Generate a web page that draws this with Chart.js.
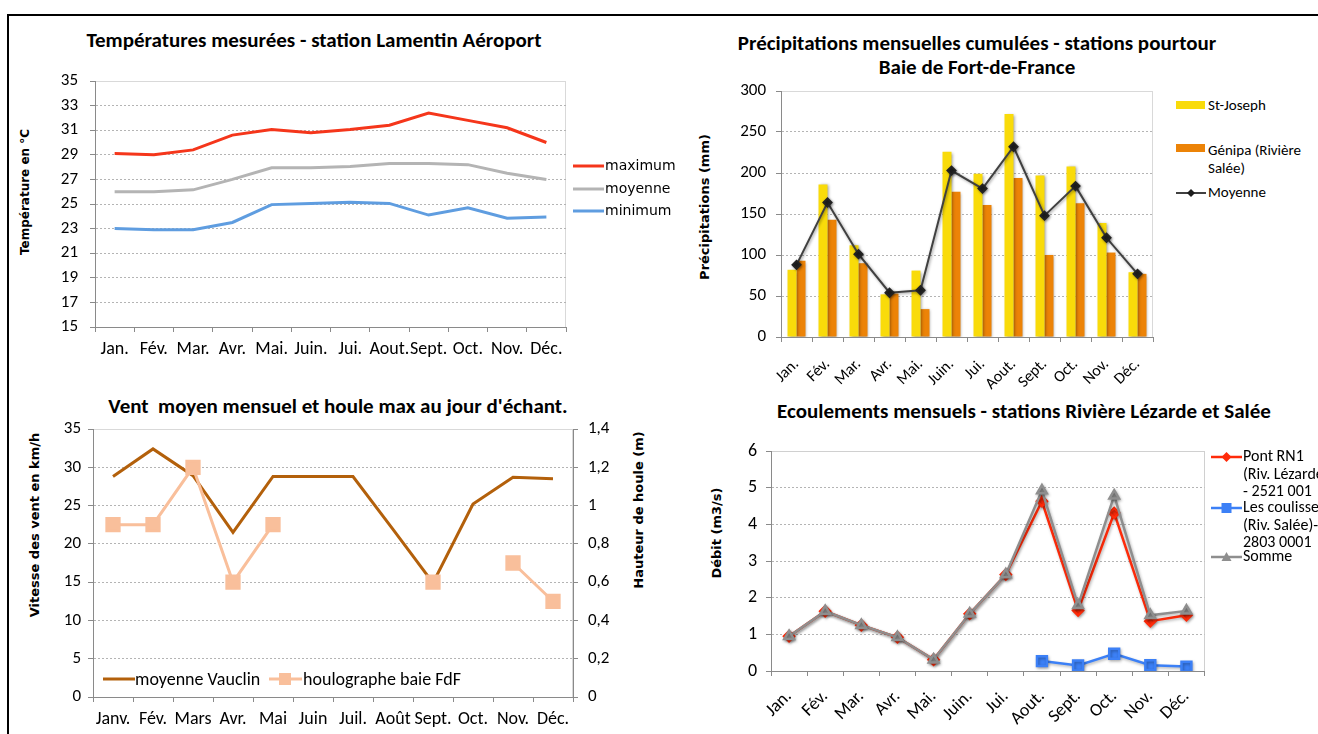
<!DOCTYPE html>
<html lang="fr">
<head>
<meta charset="utf-8">
<title>Climatologie et hydrologie - Baie de Fort-de-France</title>
<script src="https://cdn.jsdelivr.net/npm/chart.js@4.4.1/dist/chart.umd.min.js"></script>
<style>
  body { margin: 0; background: #fff; }
  #page { position: relative; width: 1318px; height: 734px; overflow: hidden; background: #fff;
          font-family: Carlito, Lato, "Liberation Sans", sans-serif; color: #000; }
  .frame { position: absolute; left: 7px; top: 14px; width: 1320px; height: 730px;
           border-top: 2px solid #000; border-left: 2px solid #000; }
  canvas { position: absolute; }
  .title { position: absolute; white-space: nowrap; font-weight: bold; font-size: 21px;
           transform: translate(-50%, -50%); text-align: center; line-height: 24px; }
  .ytitle { position: absolute; white-space: nowrap; font-family: "DejaVu Sans", sans-serif;
            font-weight: bold; font-size: 13px; transform: translate(-50%, -50%) rotate(-90deg); }
  .leg { position: absolute; white-space: nowrap; }
  .leg svg { position: absolute; }
  .leg span { position: absolute; display: block; }
</style>
</head>
<body>
<div id="page">
  <div class="frame"></div>

  <!-- Températures -->
  <div class="title" style="left:314px; top:40px;">Températures mesurées - station Lamentin Aéroport</div>
  <div class="ytitle" style="left:25px; top:192px; font-size:12px;">Température en °C</div>
  <canvas id="cTemp" width="556" height="298" style="left:30px; top:69px;"></canvas>
  <div class="leg" style="left:573px; top:0; font-family:'DejaVu Sans',sans-serif; font-size:14px;">
    <svg width="31" height="4" style="left:0; top:164px;"><line x1="0" y1="2" x2="31" y2="2" stroke="#F5361B" stroke-width="3"/></svg>
    <span style="left:32px; top:157px; line-height:17px;">maximum</span>
    <svg width="31" height="4" style="left:0; top:187px;"><line x1="0" y1="2" x2="31" y2="2" stroke="#B4B4B4" stroke-width="3"/></svg>
    <span style="left:32px; top:180px; line-height:17px;">moyenne</span>
    <svg width="31" height="4" style="left:0; top:209px;"><line x1="0" y1="2" x2="31" y2="2" stroke="#5F9DE0" stroke-width="3"/></svg>
    <span style="left:32px; top:202px; line-height:17px;">minimum</span>
  </div>

  <!-- Précipitations -->
  <div class="title" style="left:977px; top:55px;">Précipitations mensuelles cumulées - stations pourtour<br>Baie de Fort-de-France</div>
  <div class="ytitle" style="left:704px; top:207px;">Précipitations (mm)</div>
  <canvas id="cPluie" width="457" height="313" style="left:711px; top:79px;"></canvas>
  <div class="leg" style="left:1176px; top:0; font-size:15px;">
    <svg width="29" height="8" style="left:0; top:101px;"><rect x="0" y="0" width="29" height="8" fill="#F9DB0A"/></svg>
    <span style="left:32px; top:96px; line-height:18px;">St-Joseph</span>
    <svg width="29" height="8" style="left:0; top:144px;"><rect x="0" y="0" width="29" height="8" fill="#EC8307"/></svg>
    <span style="left:32px; top:141px; line-height:18px;">Génipa (Rivière<br>Salée)</span>
    <svg width="30" height="12" style="left:0; top:187px;"><line x1="0" y1="6" x2="30" y2="6" stroke="#404040" stroke-width="2"/><polygon points="15,2 19,6 15,10 11,6" fill="#1E1E1E"/></svg>
    <span style="left:32px; top:183px; line-height:18px;">Moyenne</span>
  </div>

  <!-- Vent et houle -->
  <div class="title" style="left:338px; top:406px;">Vent&nbsp; moyen mensuel et houle max au jour d'échant.</div>
  <div class="ytitle" style="left:34px; top:525px;">Vitesse des vent en km/h</div>
  <div class="ytitle" style="left:638px; top:510px;">Hauteur de houle (m)</div>
  <canvas id="cVent" width="585" height="315" style="left:33px; top:417px;"></canvas>
  <div class="leg" style="left:0; top:0; font-size:18px;">
    <svg width="32" height="4" style="left:103px; top:677px;"><line x1="0" y1="2" x2="32" y2="2" stroke="#B3600B" stroke-width="3"/></svg>
    <span style="left:135px; top:668px; line-height:22px;">moyenne Vauclin</span>
    <svg width="33" height="14" style="left:269px; top:672px;"><line x1="0" y1="7" x2="33" y2="7" stroke="#F9BF9B" stroke-width="3"/><rect x="10" y="1" width="12" height="12" fill="#F9BF9B"/></svg>
    <span style="left:303px; top:668px; line-height:22px;">houlographe baie FdF</span>
  </div>

  <!-- Écoulements -->
  <div class="title" style="left:1024px; top:411px;">Ecoulements mensuels - stations Rivière Lézarde et Salée</div>
  <div class="ytitle" style="left:716px; top:533px;">Débit (m3/s)</div>
  <canvas id="cDebit" width="503" height="292" style="left:711px; top:439px;"></canvas>
  <div class="leg" style="left:1211px; top:0; font-size:16px;">
    <svg width="31" height="12" style="left:0; top:451px;"><line x1="0" y1="6" x2="31" y2="6" stroke="#FF2B0A" stroke-width="2.5"/><polygon points="15.5,1 20.5,6 15.5,11 10.5,6" fill="#FF2B0A"/></svg>
    <span style="left:32px; top:447px; line-height:17.5px;">Pont RN1<br>(Riv. Lézarde<br>- 2521 001</span>
    <svg width="31" height="12" style="left:0; top:502px;"><line x1="0" y1="6" x2="31" y2="6" stroke="#3C80F6" stroke-width="2.5"/><rect x="10.5" y="1" width="10" height="10" fill="#3C80F6"/></svg>
    <span style="left:32px; top:498px; line-height:17.5px;">Les coulisses<br>(Riv. Salée)-<br>2803 0001</span>
    <svg width="31" height="12" style="left:0; top:551px;"><line x1="0" y1="6" x2="31" y2="6" stroke="#8E8E8E" stroke-width="2.5"/><polygon points="15.5,1 20.5,10 10.5,10" fill="#8E8E8E"/></svg>
    <span style="left:32px; top:547px; line-height:17.5px;">Somme</span>
  </div>
</div>

<script>
// Mois (libellés d'axe)
const moisCourts = ['Jan.', 'Fév.', 'Mar.', 'Avr.', 'Mai.', 'Juin.', 'Jui.', 'Aout.', 'Sept.', 'Oct.', 'Nov.', 'Déc.'];
const moisVent = ['Janv.', 'Fév.', 'Mars', 'Avr.', 'Mai', 'Juin', 'Juil.', 'Août', 'Sept.', 'Oct.', 'Nov.', 'Déc.'];

// Températures mensuelles (°C) - Lamentin Aéroport
const tempMaximum = [29.1, 29.0, 29.4, 30.6, 31.05, 30.8, 31.05, 31.4, 32.4, 31.8, 31.2, 30.0];
const tempMoyenne = [26.0, 26.0, 26.15, 27.0, 27.95, 27.95, 28.05, 28.3, 28.3, 28.2, 27.5, 27.0];
const tempMinimum = [23.0, 22.9, 22.9, 23.5, 24.95, 25.05, 25.15, 25.05, 24.1, 24.7, 23.85, 23.95];

// Précipitations mensuelles cumulées (mm)
const pluieStJoseph = [82, 186, 112, 52, 81, 226, 199, 272, 197, 208, 139, 79];
const pluieGenipa = [93, 143, 90, 53, 34, 177, 161, 194, 100, 163, 103, 77];
const pluieMoyenne = [88, 164, 101, 54, 57, 203, 181, 232, 148, 184, 121, 77];

// Vent moyen (km/h) et houle max (m)
const ventVauclin = [28.8, 32.4, 28.9, 21.5, 28.8, 28.8, 28.8, 21.9, 14.9, 25.2, 28.7, 28.5];
const houleFdF = [0.9, 0.9, 1.2, 0.6, 0.9, null, null, null, 0.6, null, 0.7, 0.5];

// Débits mensuels (m3/s)
const debitPontRN1 = [0.95, 1.63, 1.25, 0.92, 0.31, 1.56, 2.63, 4.63, 1.65, 4.31, 1.36, 1.52];
const debitCoulisses = [null, null, null, null, null, null, null, 0.27, 0.15, 0.47, 0.16, 0.12];
const debitSomme = [0.95, 1.63, 1.25, 0.92, 0.31, 1.56, 2.63, 4.92, 1.79, 4.78, 1.52, 1.64];

const fontFamily = 'Carlito, Lato, sans-serif';
const font = (size) => ({ family: fontFamily, size: size });
const axisGray = '#8A8A8A';
const gridGray = '#B4B4B4';

// Cadre gris clair autour de la zone de tracé
const plotFrame = {
  id: 'plotFrame',
  beforeDraw(chart, args, opts) {
    const { ctx, chartArea: a } = chart;
    ctx.save();
    ctx.strokeStyle = opts.color || '#D9D9D9';
    ctx.lineWidth = 1;
    ctx.strokeRect(Math.round(a.left) + 0.5, Math.round(a.top) + 0.5,
                   Math.round(a.right - a.left) - 1, Math.round(a.bottom - a.top));
    ctx.restore();
  }
};

// Ombre portée légère sur les séries
const softShadow = {
  id: 'softShadow',
  beforeDatasetDraw(chart, args, opts) {
    const ctx = chart.ctx;
    ctx.save();
    ctx.shadowColor = opts.color || 'rgba(0,0,0,0.35)';
    ctx.shadowBlur = opts.blur ?? 3;
    ctx.shadowOffsetX = opts.x ?? 1;
    ctx.shadowOffsetY = opts.y ?? 1;
  },
  afterDatasetDraw(chart) { chart.ctx.restore(); }
};

// Grille pointillée, sans les lignes confondues avec le cadre
function dottedGrid(minV, maxV) {
  return {
    color: (c) => (c.tick && (c.tick.value === minV || c.tick.value === maxV)) ? 'rgba(0,0,0,0)' : gridGray,
    tickColor: axisGray,
    tickLength: 5
  };
}

// Largeur fixe des axes verticaux : la zone de tracé ne dépend que de la marge du graphique
function fixWidth(w) {
  return (s) => { s.width = w; s.paddingTop = 0; s.paddingBottom = 0; };
}

function valueAxis(min, max, step, size, padding, width, extra) {
  return Object.assign({
    min: min, max: max,
    ticks: { stepSize: step, font: font(size), color: '#000', padding: padding },
    grid: dottedGrid(min, max),
    border: { color: axisGray, dash: [2, 2] },
    afterFit: fixWidth(width)
  }, extra || {});
}

function categoryAxis(labels, opts) {
  return {
    type: 'category',
    labels: labels,
    offset: true,
    grid: { offset: true, drawOnChartArea: false, tickLength: 5, tickColor: axisGray, color: axisGray },
    border: { color: axisGray },
    ticks: Object.assign({ font: font(opts.size), color: '#000', autoSkip: false,
                           maxRotation: opts.rotation || 0, minRotation: opts.rotation || 0,
                           padding: opts.padding }),
    afterFit: (s) => { s.height = opts.height; s.paddingLeft = 0; s.paddingRight = 0; }
  };
}

const baseOptions = (padding) => ({
  responsive: false,
  animation: false,
  events: [],
  layout: { padding: padding },
  plugins: { legend: { display: false }, tooltip: { enabled: false }, title: { display: false } }
});

// 1. Températures
const tempOptions = baseOptions({ top: 12, right: 20, left: 0, bottom: 0 });
tempOptions.scales = {
  x: categoryAxis(moisCourts, { height: 40, size: 18, padding: 7 }),
  y: valueAxis(15, 35, 2, 17, 12, 65)
};
new Chart(document.getElementById('cTemp'), {
  type: 'line',
  data: {
    labels: moisCourts,
    datasets: [
      { label: 'maximum', data: tempMaximum, borderColor: '#F5361B', borderWidth: 3, pointRadius: 0, tension: 0 },
      { label: 'moyenne', data: tempMoyenne, borderColor: '#B4B4B4', borderWidth: 3, pointRadius: 0, tension: 0 },
      { label: 'minimum', data: tempMinimum, borderColor: '#5F9DE0', borderWidth: 3, pointRadius: 0, tension: 0 }
    ]
  },
  options: tempOptions,
  plugins: [plotFrame]
});

// 2. Précipitations
const pluieOptions = baseOptions({ top: 12, right: 15, left: 0, bottom: 0 });
pluieOptions.plugins.softShadow = { color: 'rgba(0,0,0,0.4)', blur: 3, x: 1, y: 1 };
pluieOptions.scales = {
  x: categoryAxis(moisCourts, { height: 55, size: 16, padding: 13, rotation: 45 }),
  y: valueAxis(0, 300, 50, 17, 10, 70)
};
new Chart(document.getElementById('cPluie'), {
  type: 'bar',
  data: {
    labels: moisCourts,
    datasets: [
      { type: 'line', label: 'Moyenne', data: pluieMoyenne, borderColor: '#404040', borderWidth: 2,
        pointStyle: 'rectRot', pointRadius: 4, pointBackgroundColor: '#222', pointBorderColor: '#222',
        tension: 0, order: 0 },
      { label: 'St-Joseph', data: pluieStJoseph, backgroundColor: '#F9DB0A', borderWidth: 0,
        categoryPercentage: 0.58, barPercentage: 1.0, order: 1 },
      { label: 'Génipa (Rivière Salée)', data: pluieGenipa, backgroundColor: '#EC8307', borderWidth: 0,
        categoryPercentage: 0.58, barPercentage: 1.0, order: 1 }
    ]
  },
  options: pluieOptions,
  plugins: [plotFrame, softShadow]
});

// 3. Vent et houle
const ventOptions = baseOptions({ top: 12, right: 0, left: 0, bottom: 0 });
ventOptions.scales = {
  x: categoryAxis(moisVent, { height: 35, size: 18, padding: 7 }),
  y: valueAxis(0, 35, 5, 17, 7, 60, { position: 'left' }),
  y1: {
    position: 'right', min: 0, max: 1.4,
    ticks: { stepSize: 0.2, font: font(17), color: '#000', padding: 10,
             callback: (v) => String(Math.round(v * 10) / 10).replace('.', ',') },
    grid: { drawOnChartArea: false, tickColor: axisGray, tickLength: 5 },
    border: { color: axisGray },
    afterFit: fixWidth(45)
  }
};
new Chart(document.getElementById('cVent'), {
  type: 'line',
  data: {
    labels: moisVent,
    datasets: [
      { label: 'moyenne Vauclin', data: ventVauclin, yAxisID: 'y', borderColor: '#B3600B', borderWidth: 3,
        pointRadius: 0, tension: 0, order: 1 },
      { label: 'houlographe baie FdF', data: houleFdF, yAxisID: 'y1', borderColor: '#F9BF9B', borderWidth: 3,
        pointStyle: 'rect', pointRadius: 8.7, pointBackgroundColor: '#F9BF9B', pointBorderColor: '#F9BF9B',
        spanGaps: false, tension: 0, order: 0 }
    ]
  },
  options: ventOptions,
  plugins: [plotFrame]
});

// 4. Écoulements
const debitOptions = baseOptions({ top: 12, right: 5, left: 0, bottom: 0 });
debitOptions.plugins.softShadow = { color: 'rgba(0,0,0,0.3)', blur: 3, x: 1, y: 1.5 };
debitOptions.plugins.plotFrame = { color: '#D0D0D0' };
debitOptions.scales = {
  x: categoryAxis(moisCourts, { height: 60, size: 18, padding: 10, rotation: 45 }),
  y: valueAxis(0, 6, 1, 18, 9, 60)
};
new Chart(document.getElementById('cDebit'), {
  type: 'line',
  data: {
    labels: moisCourts,
    datasets: [
      { label: 'Pont RN1 (Riv. Lézarde - 2521 001', data: debitPontRN1, borderColor: '#FF2B0A', borderWidth: 2.5,
        pointStyle: 'rectRot', pointRadius: 5, pointBackgroundColor: '#FF2B0A', pointBorderColor: '#FF2B0A',
        tension: 0, order: 1 },
      { label: 'Les coulisses (Riv. Salée)- 2803 0001', data: debitCoulisses, borderColor: '#3C80F6', borderWidth: 2.5,
        pointStyle: 'rect', pointRadius: 7, pointBackgroundColor: '#3C80F6', pointBorderColor: '#3C80F6',
        tension: 0, order: 2 },
      { label: 'Somme', data: debitSomme, borderColor: '#8E8E8E', borderWidth: 2.5,
        pointStyle: 'triangle', pointRadius: 5.5, pointBackgroundColor: '#8E8E8E', pointBorderColor: '#8E8E8E',
        tension: 0, order: 0 }
    ]
  },
  options: debitOptions,
  plugins: [plotFrame, softShadow]
});
</script>
</body>
</html>
